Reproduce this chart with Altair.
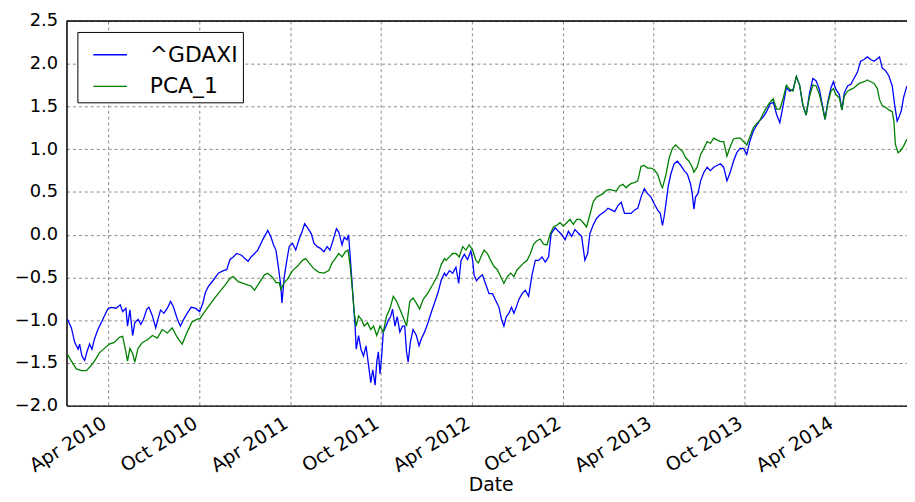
import altair as alt
import pandas as pd

# decimal-year positions and values
gdaxi_t = [2010.020, 2010.042, 2010.060, 2010.079, 2010.087, 2010.100, 2010.115, 2010.129, 2010.142, 2010.155,
           2010.169, 2010.188, 2010.215, 2010.242, 2010.260, 2010.288, 2010.311, 2010.324, 2010.342, 2010.351,
           2010.364, 2010.379, 2010.391, 2010.409, 2010.424, 2010.439, 2010.457, 2010.469, 2010.488, 2010.506,
           2010.518, 2010.533, 2010.551, 2010.570, 2010.588, 2010.603, 2010.624, 2010.642, 2010.660, 2010.679,
           2010.701, 2010.724, 2010.748, 2010.766, 2010.779, 2010.797, 2010.824, 2010.851, 2010.879, 2010.897,
           2010.915, 2010.933, 2010.952, 2010.979, 2010.997, 2011.015, 2011.031, 2011.050, 2011.068, 2011.095,
           2011.123, 2011.141, 2011.155, 2011.168, 2011.181, 2011.195, 2011.201, 2011.214, 2011.228, 2011.241,
           2011.259, 2011.277, 2011.296, 2011.314, 2011.326, 2011.345, 2011.363, 2011.377, 2011.395, 2011.413,
           2011.432, 2011.450, 2011.465, 2011.483, 2011.501, 2011.514, 2011.532, 2011.544, 2011.559, 2011.568,
           2011.577, 2011.586, 2011.596, 2011.604, 2011.610, 2011.623, 2011.636, 2011.650, 2011.664, 2011.678,
           2011.690, 2011.701, 2011.714, 2011.723, 2011.732, 2011.741, 2011.750, 2011.759, 2011.774, 2011.787,
           2011.799, 2011.810, 2011.823, 2011.836, 2011.850, 2011.865, 2011.877, 2011.887, 2011.896, 2011.908,
           2011.923, 2011.941, 2011.956, 2011.968, 2011.986, 2012.005, 2012.023, 2012.041, 2012.060, 2012.078,
           2012.096, 2012.105, 2012.123, 2012.141, 2012.159, 2012.174, 2012.187, 2012.205, 2012.223, 2012.241,
           2012.251, 2012.259, 2012.272, 2012.287, 2012.305, 2012.323, 2012.341, 2012.360, 2012.378, 2012.396,
           2012.410, 2012.423, 2012.436, 2012.450, 2012.465, 2012.478, 2012.491, 2012.505, 2012.523, 2012.541,
           2012.559, 2012.578, 2012.596, 2012.614, 2012.633, 2012.651, 2012.669, 2012.683, 2012.705, 2012.723,
           2012.742, 2012.760, 2012.778, 2012.796, 2012.814, 2012.832, 2012.851, 2012.869, 2012.884, 2012.896,
           2012.914, 2012.933, 2012.951, 2012.978, 2012.996, 2013.014, 2013.033, 2013.051, 2013.069, 2013.087,
           2013.105, 2013.124, 2013.142, 2013.160, 2013.178, 2013.196, 2013.214, 2013.233, 2013.251, 2013.269,
           2013.284, 2013.296, 2013.305, 2013.315, 2013.327, 2013.342, 2013.360, 2013.378, 2013.397, 2013.415,
           2013.433, 2013.451, 2013.460, 2013.469, 2013.478, 2013.491, 2013.506, 2013.524, 2013.542, 2013.560,
           2013.578, 2013.596, 2013.615, 2013.633, 2013.651, 2013.669, 2013.687, 2013.705, 2013.724, 2013.742,
           2013.760, 2013.778, 2013.796, 2013.814, 2013.833, 2013.851, 2013.869, 2013.888, 2013.906, 2013.924,
           2013.942, 2013.960, 2013.978, 2013.997, 2014.015, 2014.033, 2014.051, 2014.069, 2014.087, 2014.106,
           2014.124, 2014.142, 2014.160, 2014.178, 2014.191, 2014.206, 2014.224, 2014.237, 2014.251, 2014.270,
           2014.284, 2014.297, 2014.315, 2014.333, 2014.351, 2014.369, 2014.387, 2014.406, 2014.424, 2014.442,
           2014.461, 2014.479, 2014.491, 2014.506, 2014.524, 2014.542, 2014.561, 2014.575, 2014.588, 2014.597,
           2014.611, 2014.624, 2014.642]
gdaxi_v = [-0.99, -1.09, -1.26, -1.34, -1.28, -1.42, -1.47, -1.36, -1.28, -1.34,
           -1.22, -1.11, -0.99, -0.87, -0.85, -0.86, -0.82, -0.90, -0.86, -1.07,
           -0.88, -1.18, -1.03, -0.99, -1.05, -0.99, -0.87, -0.85, -0.95, -1.09,
           -0.99, -0.88, -0.92, -0.86, -0.78, -0.84, -0.98, -1.07, -0.99, -0.92,
           -0.85, -0.86, -0.90, -0.80, -0.68, -0.60, -0.53, -0.45, -0.42, -0.41,
           -0.29, -0.26, -0.22, -0.24, -0.28, -0.31, -0.26, -0.22, -0.18, -0.06,
           0.05, -0.03, -0.12, -0.18, -0.37, -0.60, -0.80, -0.49, -0.30, -0.14,
           -0.10, -0.18, -0.05, 0.05, 0.13, 0.07, 0.01, -0.10, -0.14, -0.16,
           -0.20, -0.14, -0.18, -0.06, 0.07, 0.03, -0.12, -0.03, -0.06, 0.00,
           -0.26, -0.53, -0.84, -1.07, -1.34, -1.18, -1.34, -1.42, -1.30, -1.53,
           -1.73, -1.58, -1.76, -1.49, -1.37, -1.63, -1.42, -1.14, -1.07, -1.00,
           -0.96, -0.87, -1.07, -0.96, -1.14, -1.07, -1.07, -1.37, -1.49, -1.26,
           -1.11, -1.18, -1.30, -1.22, -1.14, -1.03, -0.91, -0.80, -0.68, -0.53,
           -0.45, -0.48, -0.42, -0.45, -0.38, -0.57, -0.30, -0.23, -0.29, -0.19,
           -0.30, -0.47, -0.54, -0.50, -0.47, -0.58, -0.69, -0.69, -0.77, -0.85,
           -0.99, -1.07, -0.96, -0.92, -0.85, -0.92, -0.85, -0.76, -0.69, -0.65,
           -0.72, -0.47, -0.30, -0.30, -0.26, -0.32, -0.26, 0.01, 0.08, 0.04,
           0.00, -0.06, 0.04, -0.02, 0.06, 0.02, -0.02, -0.30, -0.22, 0.01,
           0.11, 0.19, 0.23, 0.27, 0.31, 0.29, 0.27, 0.34, 0.38, 0.25,
           0.25, 0.25, 0.29, 0.31, 0.44, 0.54, 0.48, 0.44, 0.36, 0.29,
           0.25, 0.11, 0.21, 0.36, 0.56, 0.71, 0.83, 0.86, 0.81, 0.75,
           0.71, 0.59, 0.48, 0.30, 0.44, 0.48, 0.63, 0.73, 0.79, 0.75,
           0.79, 0.81, 0.83, 0.79, 0.63, 0.73, 0.86, 0.96, 1.01, 1.01,
           0.94, 1.10, 1.21, 1.28, 1.34, 1.38, 1.44, 1.53, 1.55, 1.41,
           1.31, 1.51, 1.72, 1.68, 1.70, 1.85, 1.75, 1.51, 1.40, 1.66,
           1.83, 1.80, 1.70, 1.50, 1.35, 1.55, 1.72, 1.79, 1.70, 1.64,
           1.46, 1.66, 1.74, 1.76, 1.83, 1.90, 2.03, 2.05, 2.08, 2.05,
           2.03, 2.06, 2.08, 1.95, 1.92, 1.86, 1.74, 1.51, 1.33, 1.37,
           1.45, 1.61, 1.74]

pca_t = [2010.020, 2010.042, 2010.069, 2010.097, 2010.124, 2010.151, 2010.169, 2010.197, 2010.224, 2010.251,
         2010.278, 2010.306, 2010.324, 2010.342, 2010.351, 2010.364, 2010.379, 2010.391, 2010.409, 2010.433,
         2010.461, 2010.488, 2010.515, 2010.542, 2010.570, 2010.597, 2010.624, 2010.652, 2010.679, 2010.706,
         2010.733, 2010.751, 2010.769, 2010.797, 2010.824, 2010.861, 2010.888, 2010.915, 2010.933, 2010.960,
         2010.988, 2011.015, 2011.031, 2011.050, 2011.077, 2011.105, 2011.123, 2011.150, 2011.168, 2011.186,
         2011.195, 2011.214, 2011.232, 2011.259, 2011.286, 2011.314, 2011.332, 2011.350, 2011.377, 2011.405,
         2011.432, 2011.459, 2011.477, 2011.495, 2011.514, 2011.532, 2011.550, 2011.565, 2011.577, 2011.592,
         2011.599, 2011.610, 2011.623, 2011.641, 2011.654, 2011.672, 2011.690, 2011.705, 2011.723, 2011.741,
         2011.759, 2011.777, 2011.795, 2011.814, 2011.832, 2011.850, 2011.869, 2011.887, 2011.905, 2011.923,
         2011.941, 2011.959, 2011.978, 2012.005, 2012.032, 2012.060, 2012.078, 2012.096, 2012.105, 2012.123,
         2012.141, 2012.159, 2012.177, 2012.196, 2012.214, 2012.232, 2012.251, 2012.269, 2012.283, 2012.296,
         2012.314, 2012.332, 2012.350, 2012.368, 2012.387, 2012.405, 2012.423, 2012.442, 2012.460, 2012.478,
         2012.496, 2012.514, 2012.532, 2012.551, 2012.569, 2012.587, 2012.605, 2012.623, 2012.641, 2012.660,
         2012.678, 2012.696, 2012.714, 2012.732, 2012.750, 2012.769, 2012.787, 2012.805, 2012.824, 2012.842,
         2012.860, 2012.878, 2012.896, 2012.914, 2012.933, 2012.951, 2012.969, 2012.987, 2013.005, 2013.023,
         2013.042, 2013.060, 2013.078, 2013.096, 2013.105, 2013.124, 2013.142, 2013.160, 2013.178, 2013.196,
         2013.214, 2013.233, 2013.251, 2013.269, 2013.287, 2013.296, 2013.315, 2013.333, 2013.351, 2013.369,
         2013.387, 2013.405, 2013.424, 2013.442, 2013.460, 2013.469, 2013.487, 2013.506, 2013.524, 2013.542,
         2013.560, 2013.578, 2013.596, 2013.615, 2013.633, 2013.651, 2013.669, 2013.687, 2013.705, 2013.724,
         2013.742, 2013.760, 2013.778, 2013.796, 2013.814, 2013.833, 2013.851, 2013.869, 2013.888, 2013.906,
         2013.924, 2013.942, 2013.960, 2013.978, 2013.997, 2014.015, 2014.033, 2014.051, 2014.069, 2014.087,
         2014.106, 2014.124, 2014.142, 2014.160, 2014.178, 2014.191, 2014.206, 2014.224, 2014.237, 2014.251,
         2014.270, 2014.284, 2014.297, 2014.315, 2014.333, 2014.351, 2014.379, 2014.406, 2014.424, 2014.442,
         2014.461, 2014.479, 2014.491, 2014.506, 2014.524, 2014.542, 2014.561, 2014.570, 2014.578, 2014.593,
         2014.606, 2014.624, 2014.642]
pca_v = [-1.40, -1.48, -1.57, -1.59, -1.59, -1.53, -1.48, -1.38, -1.33, -1.28,
         -1.26, -1.20, -1.19, -1.37, -1.48, -1.33, -1.39, -1.49, -1.33, -1.26,
         -1.23, -1.18, -1.21, -1.11, -1.15, -1.09, -1.20, -1.28, -1.14, -1.02,
         -0.99, -0.98, -0.92, -0.84, -0.76, -0.66, -0.59, -0.51, -0.49, -0.55,
         -0.57, -0.59, -0.60, -0.65, -0.56, -0.47, -0.45, -0.50, -0.56, -0.56,
         -0.64, -0.56, -0.52, -0.42, -0.37, -0.30, -0.28, -0.33, -0.40, -0.44,
         -0.45, -0.42, -0.33, -0.28, -0.22, -0.26, -0.20, -0.18, -0.37, -0.72,
         -0.91, -1.07, -0.95, -1.00, -1.07, -1.03, -1.11, -1.07, -1.18, -1.07,
         -1.14, -0.95, -0.87, -0.72, -0.78, -0.87, -0.97, -1.07, -0.78, -0.74,
         -0.80, -0.87, -0.76, -0.68, -0.58, -0.47, -0.35, -0.28, -0.30, -0.26,
         -0.22, -0.22, -0.26, -0.14, -0.18, -0.12, -0.18, -0.30, -0.33, -0.26,
         -0.18, -0.22, -0.30, -0.37, -0.41, -0.49, -0.57, -0.49, -0.45, -0.49,
         -0.41, -0.37, -0.33, -0.30, -0.22, -0.11, -0.07, -0.05, -0.11, -0.12,
         0.01, 0.09, 0.11, 0.14, 0.10, 0.14, 0.18, 0.12, 0.18, 0.18,
         0.14, 0.09, 0.23, 0.38, 0.44, 0.46, 0.48, 0.52, 0.53, 0.52,
         0.51, 0.57, 0.59, 0.55, 0.57, 0.60, 0.61, 0.63, 0.80, 0.81,
         0.78, 0.78, 0.76, 0.71, 0.59, 0.55, 0.70, 0.90, 1.01, 1.05,
         1.01, 0.98, 0.90, 0.86, 0.79, 0.73, 0.79, 0.94, 1.01, 1.09,
         1.07, 1.13, 1.11, 1.09, 1.09, 0.92, 1.03, 1.12, 1.13, 1.13,
         1.09, 1.05, 1.15, 1.25, 1.30, 1.34, 1.42, 1.49, 1.55, 1.59,
         1.47, 1.47, 1.59, 1.75, 1.70, 1.68, 1.85, 1.75, 1.52, 1.40,
         1.62, 1.75, 1.74, 1.64, 1.48, 1.35, 1.53, 1.68, 1.71, 1.64,
         1.60, 1.46, 1.62, 1.68, 1.70, 1.72, 1.77, 1.79, 1.81, 1.79,
         1.77, 1.71, 1.58, 1.51, 1.49, 1.46, 1.44, 1.33, 1.06, 0.96,
         0.98, 1.04, 1.12]

series_names = ["^GDAXI", "PCA_1"]
series_colors = ["#0000ff", "#008000"]
y_ticks = [-2.0, -1.5, -1.0, -0.5, 0.0, 0.5, 1.0, 1.5, 2.0, 2.5]
x_ticks = [(2010, 4), (2010, 10), (2011, 4), (2011, 10), (2012, 4), (2012, 10),
           (2013, 4), (2013, 10), (2014, 4)]


def to_dates(ts):
    base = pd.Timestamp("2010-01-01")
    return [base + pd.Timedelta(days=(t - 2010.0) * 365.25) for t in ts]


df = pd.concat([
    pd.DataFrame({"Date": to_dates(gdaxi_t), "value": gdaxi_v, "series": series_names[0]}),
    pd.DataFrame({"Date": to_dates(pca_t), "value": pca_v, "series": series_names[1]}),
], ignore_index=True)

FONT = "DejaVu Sans"

x_enc = alt.X(
    "Date:T",
    scale=alt.Scale(domain=[alt.DateTime(year=2010, month=1, date=6, hours=10),
                            alt.DateTime(year=2014, month=8, date=23, hours=14)]),
    axis=alt.Axis(
        values=[alt.DateTime(year=y, month=m, date=1) for y, m in x_ticks],
        format="%b %Y",
        labelAngle=328, labelAlign="right", labelBaseline="top",
        labelFontSize=19, labelFont=FONT, labelColor="black", labelPadding=8,
        labelOffset=-9,
        labelOverlap=False, labelFlush=False, labelBound=False,
        ticks=False, domainColor="black", domainWidth=1.5,
        grid=True, gridDash=[3, 3], gridColor="#8a8a8a", gridWidth=1,
        title="Date", titleFontSize=19, titleFont=FONT, titleFontWeight="normal",
        titleColor="black", titleBaseline="alphabetic", titleY=86, titleX=428,
    ),
)

y_enc = alt.Y(
    "value:Q",
    scale=alt.Scale(domain=[-2, 2.5], nice=False, zero=False),
    axis=alt.Axis(
        values=y_ticks, format=".1f", title=None,
        labelFontSize=18, labelFont=FONT, labelColor="black", labelPadding=9,
        ticks=False, domainColor="black", domainWidth=1.5,
        grid=True, gridDash=[3, 3], gridColor="#8a8a8a", gridWidth=1,
    ),
)

lines = alt.Chart(df).mark_line(strokeWidth=1.3, interpolate="linear").encode(
    x=x_enc,
    y=y_enc,
    color=alt.Color(
        "series:N",
        scale=alt.Scale(domain=series_names, range=series_colors),
        legend=alt.Legend(
            title=None, orient="none", legendX=11, legendY=11,
            strokeColor="black", fillColor="white", padding=5, cornerRadius=0,
            symbolType="stroke", symbolSize=1156, symbolStrokeWidth=1.3, symbolOffset=10,
            labelOffset=22, labelFontSize=22, labelFont=FONT, labelColor="black",
            rowPadding=3,
        ),
    ),
    detail="series:N",
)

top_border = alt.Chart(pd.DataFrame({"k": [0]})).mark_rule(
    color="black", strokeWidth=1.5
).encode(y=alt.value(0))

chart = alt.layer(lines, top_border).properties(
    width=848,
    height=388,
    autosize=alt.AutoSizeParams(type="none"),
    padding={"left": 59, "top": 11, "right": 0, "bottom": 87},
).configure_view(stroke=None).configure_legend(strokeWidth=1.5).configure(font=FONT)

chart.save("out.html", embed_options={"renderer": "svg", "actions": False})
